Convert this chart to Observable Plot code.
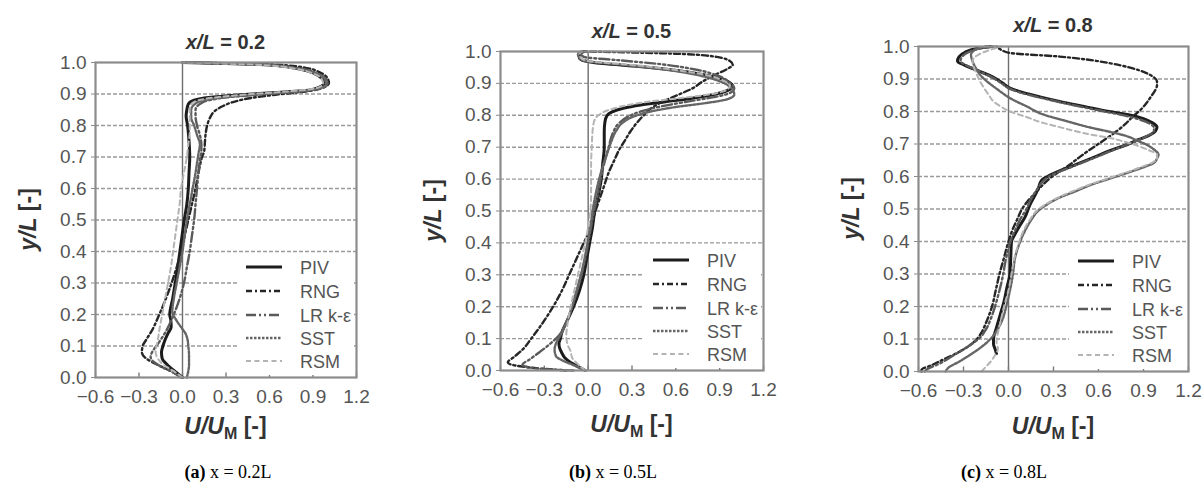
<!DOCTYPE html>
<html>
<head>
<meta charset="utf-8">
<script src="https://cdn.jsdelivr.net/npm/d3@7"></script>
<script src="https://cdn.jsdelivr.net/npm/@observablehq/plot@0.6"></script>
<style>
  html, body { margin: 0; padding: 0; background: #fff; overflow: hidden; }
  #fig { position: relative; width: 1203px; height: 490px; overflow: hidden; background: #fff; }
  #fig svg.panel { position: absolute; }
  #overlay { position: absolute; left: 0; top: 0; }
</style>
</head>
<body>
<div id="fig"></div>
<script>
// Axis ticks
const xTicks = [-0.6, -0.3, 0.0, 0.3, 0.6, 0.9, 1.2];
const yTicks = [0.0, 0.1, 0.2, 0.3, 0.4, 0.5, 0.6, 0.7, 0.8, 0.9, 1.0];
const gridY = [0.1, 0.2, 0.3, 0.4, 0.5, 0.6, 0.7, 0.8, 0.9];

const seriesNames = ["PIV", "RNG", "LR k-ε", "SST", "RSM"];
const panelTitles = ["0.2", "0.5", "0.8"];
const captionLetters = ["(a)", "(b)", "(c)"];
const captionTexts = [" x = 0.2L", " x = 0.5L", " x = 0.8L"];

// Velocity profiles, pairs of [y/L, U/U_M]
// x/L = 0.2
const pivA = [[1.000,0.00],[0.997,0.30],[0.992,0.60],[0.980,0.80],[0.965,0.91],[0.950,0.96],[0.937,0.98],[0.925,0.96],[0.913,0.88],[0.905,0.65],[0.897,0.38],[0.889,0.18],[0.880,0.08],[0.868,0.04],[0.850,0.03],[0.830,0.025],[0.800,0.035],[0.750,0.045],[0.700,0.050],[0.650,0.045],[0.600,0.040],[0.550,0.030],[0.500,0.012],[0.450,-0.003],[0.400,-0.018],[0.350,-0.033],[0.300,-0.050],[0.250,-0.068],[0.200,-0.088],[0.180,-0.080],[0.160,-0.078],[0.140,-0.100],[0.120,-0.120],[0.100,-0.135],[0.080,-0.145],[0.060,-0.140],[0.045,-0.115],[0.030,-0.080],[0.015,-0.040],[0.000,0.000]];
const rngA = [[1.000,0.02],[0.997,0.35],[0.993,0.65],[0.983,0.85],[0.968,0.95],[0.950,1.00],[0.935,1.01],[0.920,0.97],[0.908,0.85],[0.898,0.65],[0.888,0.48],[0.876,0.36],[0.862,0.28],[0.845,0.22],[0.825,0.19],[0.800,0.17],[0.775,0.16],[0.750,0.155],[0.720,0.15],[0.700,0.135],[0.650,0.11],[0.600,0.09],[0.550,0.065],[0.500,0.04],[0.450,0.015],[0.400,-0.01],[0.350,-0.04],[0.300,-0.075],[0.250,-0.115],[0.200,-0.16],[0.150,-0.21],[0.120,-0.25],[0.100,-0.275],[0.080,-0.28],[0.060,-0.25],[0.040,-0.17],[0.020,-0.08],[0.000,0.00]];
const lrA = [[1.000,0.01],[0.997,0.30],[0.992,0.60],[0.980,0.82],[0.965,0.93],[0.948,0.99],[0.932,1.00],[0.918,0.95],[0.908,0.80],[0.899,0.55],[0.890,0.32],[0.880,0.18],[0.868,0.12],[0.850,0.09],[0.830,0.09],[0.800,0.10],[0.770,0.12],[0.740,0.13],[0.720,0.13],[0.690,0.12],[0.650,0.11],[0.600,0.10],[0.550,0.09],[0.500,0.08],[0.450,0.065],[0.400,0.05],[0.350,0.03],[0.300,0.01],[0.250,-0.02],[0.200,-0.06],[0.150,-0.11],[0.120,-0.15],[0.100,-0.18],[0.080,-0.21],[0.065,-0.22],[0.050,-0.20],[0.035,-0.15],[0.020,-0.08],[0.000,-0.01]];
const sstA = [[1.000,0.00],[0.997,0.28],[0.992,0.58],[0.980,0.80],[0.965,0.92],[0.948,0.98],[0.930,0.99],[0.916,0.93],[0.906,0.75],[0.898,0.50],[0.889,0.28],[0.879,0.14],[0.866,0.08],[0.850,0.06],[0.825,0.06],[0.800,0.08],[0.770,0.10],[0.740,0.12],[0.710,0.11],[0.680,0.10],[0.650,0.09],[0.600,0.07],[0.550,0.05],[0.500,0.03],[0.450,0.015],[0.400,0.00],[0.350,-0.02],[0.300,-0.04],[0.250,-0.06],[0.210,-0.07],[0.180,-0.04],[0.160,-0.01],[0.140,0.02],[0.120,0.035],[0.100,0.04],[0.070,0.045],[0.040,0.045],[0.020,0.04],[0.000,0.03]];
const rsmA = [[1.000,0.00],[0.997,0.25],[0.992,0.55],[0.980,0.78],[0.965,0.90],[0.948,0.96],[0.932,0.97],[0.918,0.92],[0.908,0.72],[0.899,0.45],[0.890,0.24],[0.880,0.11],[0.868,0.06],[0.850,0.05],[0.820,0.05],[0.780,0.05],[0.740,0.04],[0.700,0.03],[0.650,0.01],[0.600,-0.01],[0.550,-0.02],[0.500,-0.035],[0.450,-0.05],[0.400,-0.065],[0.350,-0.08],[0.300,-0.10],[0.250,-0.12],[0.200,-0.14],[0.150,-0.16],[0.120,-0.17],[0.100,-0.18],[0.080,-0.185],[0.060,-0.17],[0.040,-0.13],[0.020,-0.06],[0.000,0.00]];

// x/L = 0.5
const pivB = [[1.000,-0.03],[0.992,-0.06],[0.980,-0.06],[0.970,-0.02],[0.962,0.10],[0.953,0.35],[0.940,0.62],[0.922,0.85],[0.905,0.96],[0.890,0.99],[0.877,0.95],[0.865,0.86],[0.853,0.70],[0.842,0.52],[0.832,0.36],[0.822,0.24],[0.810,0.16],[0.800,0.13],[0.780,0.115],[0.750,0.11],[0.700,0.11],[0.650,0.10],[0.600,0.09],[0.550,0.07],[0.500,0.045],[0.450,0.03],[0.400,0.01],[0.350,-0.01],[0.300,-0.03],[0.250,-0.06],[0.200,-0.10],[0.150,-0.15],[0.120,-0.18],[0.100,-0.19],[0.085,-0.20],[0.070,-0.195],[0.055,-0.18],[0.040,-0.16],[0.025,-0.12],[0.012,-0.07],[0.000,-0.02]];
const rngB = [[1.000,-0.02],[0.997,0.30],[0.992,0.65],[0.983,0.88],[0.970,0.97],[0.958,0.99],[0.945,0.95],[0.925,0.86],[0.905,0.78],[0.886,0.72],[0.865,0.62],[0.845,0.52],[0.825,0.44],[0.800,0.38],[0.780,0.34],[0.750,0.29],[0.720,0.25],[0.690,0.21],[0.660,0.18],[0.620,0.14],[0.580,0.11],[0.540,0.08],[0.500,0.05],[0.450,0.02],[0.400,-0.03],[0.350,-0.08],[0.300,-0.13],[0.250,-0.18],[0.200,-0.24],[0.150,-0.31],[0.100,-0.39],[0.070,-0.44],[0.045,-0.50],[0.025,-0.55],[0.012,-0.45],[0.000,-0.15]];
const lrB = [[1.000,-0.04],[0.993,-0.05],[0.983,-0.03],[0.973,0.20],[0.960,0.50],[0.942,0.75],[0.922,0.90],[0.902,0.97],[0.885,1.00],[0.870,0.97],[0.857,0.86],[0.843,0.68],[0.828,0.50],[0.812,0.36],[0.795,0.27],[0.775,0.21],[0.745,0.17],[0.700,0.14],[0.650,0.11],[0.600,0.085],[0.550,0.065],[0.500,0.04],[0.450,0.02],[0.400,0.00],[0.350,-0.02],[0.300,-0.045],[0.250,-0.075],[0.200,-0.11],[0.150,-0.15],[0.110,-0.20],[0.080,-0.27],[0.055,-0.34],[0.035,-0.40],[0.018,-0.45],[0.006,-0.35],[0.000,-0.10]];
const sstB = [[1.000,-0.05],[0.992,-0.07],[0.980,-0.06],[0.970,-0.02],[0.960,0.20],[0.945,0.50],[0.925,0.76],[0.905,0.91],[0.885,0.98],[0.865,1.00],[0.850,0.95],[0.838,0.80],[0.826,0.60],[0.812,0.43],[0.796,0.31],[0.778,0.24],[0.750,0.19],[0.720,0.16],[0.680,0.13],[0.640,0.10],[0.600,0.075],[0.550,0.05],[0.500,0.03],[0.450,0.015],[0.400,-0.005],[0.350,-0.025],[0.300,-0.05],[0.250,-0.08],[0.200,-0.11],[0.150,-0.15],[0.110,-0.19],[0.085,-0.22],[0.065,-0.23],[0.045,-0.22],[0.030,-0.17],[0.015,-0.09],[0.000,-0.02]];
const rsmB = [[1.000,-0.04],[0.992,-0.06],[0.980,-0.05],[0.970,0.00],[0.958,0.30],[0.942,0.60],[0.925,0.82],[0.908,0.93],[0.893,0.97],[0.880,0.95],[0.867,0.85],[0.855,0.65],[0.843,0.42],[0.830,0.25],[0.815,0.13],[0.800,0.07],[0.780,0.04],[0.750,0.03],[0.700,0.025],[0.650,0.02],[0.600,0.02],[0.550,0.02],[0.500,0.015],[0.450,0.00],[0.400,-0.02],[0.350,-0.045],[0.300,-0.07],[0.250,-0.095],[0.200,-0.12],[0.150,-0.14],[0.110,-0.15],[0.080,-0.14],[0.060,-0.12],[0.040,-0.11],[0.020,-0.07],[0.000,-0.02]];

// x/L = 0.8
const pivC = [[1.000,-0.12],[0.993,-0.22],[0.982,-0.29],[0.968,-0.33],[0.955,-0.34],[0.942,-0.29],[0.925,-0.20],[0.905,-0.10],[0.888,-0.04],[0.872,0.01],[0.858,0.10],[0.845,0.21],[0.831,0.34],[0.815,0.51],[0.800,0.67],[0.790,0.80],[0.778,0.90],[0.765,0.96],[0.752,0.99],[0.740,0.98],[0.727,0.94],[0.714,0.87],[0.700,0.80],[0.680,0.68],[0.657,0.56],[0.635,0.44],[0.617,0.34],[0.600,0.26],[0.588,0.22],[0.565,0.20],[0.545,0.18],[0.510,0.14],[0.475,0.11],[0.445,0.07],[0.420,0.04],[0.400,0.02],[0.350,0.015],[0.300,0.01],[0.260,-0.01],[0.215,-0.03],[0.175,-0.055],[0.135,-0.08],[0.100,-0.10],[0.085,-0.10],[0.070,-0.09],[0.055,-0.08]];
const rngC = [[1.000,-0.08],[0.990,-0.05],[0.980,0.01],[0.969,0.34],[0.960,0.52],[0.949,0.67],[0.935,0.81],[0.918,0.92],[0.905,0.97],[0.893,0.99],[0.880,0.99],[0.867,0.98],[0.846,0.95],[0.826,0.92],[0.805,0.88],[0.785,0.83],[0.762,0.78],[0.739,0.72],[0.713,0.64],[0.688,0.56],[0.662,0.48],[0.637,0.41],[0.615,0.34],[0.596,0.28],[0.575,0.23],[0.550,0.18],[0.525,0.13],[0.500,0.09],[0.470,0.06],[0.440,0.03],[0.400,0.00],[0.350,-0.03],[0.300,-0.06],[0.250,-0.085],[0.200,-0.11],[0.150,-0.15],[0.120,-0.18],[0.100,-0.21],[0.080,-0.26],[0.060,-0.33],[0.040,-0.42],[0.020,-0.51],[0.005,-0.58],[0.000,-0.58]];
const lrC = [[1.000,-0.10],[0.993,-0.20],[0.982,-0.27],[0.968,-0.31],[0.955,-0.32],[0.942,-0.28],[0.925,-0.20],[0.905,-0.11],[0.888,-0.05],[0.872,0.00],[0.858,0.08],[0.845,0.19],[0.831,0.32],[0.815,0.48],[0.800,0.64],[0.788,0.77],[0.776,0.87],[0.763,0.94],[0.750,0.97],[0.738,0.97],[0.726,0.93],[0.713,0.87],[0.700,0.80],[0.680,0.69],[0.657,0.57],[0.635,0.45],[0.617,0.35],[0.600,0.27],[0.585,0.23],[0.560,0.19],[0.530,0.15],[0.500,0.12],[0.470,0.08],[0.440,0.05],[0.410,0.02],[0.380,0.00],[0.340,-0.02],[0.300,-0.035],[0.250,-0.06],[0.200,-0.09],[0.160,-0.12],[0.130,-0.15],[0.100,-0.20],[0.080,-0.26],[0.060,-0.33],[0.040,-0.40],[0.022,-0.47],[0.008,-0.54],[0.000,-0.56]];
const sstC = [[1.000,-0.15],[0.990,-0.22],[0.975,-0.25],[0.955,-0.24],[0.935,-0.22],[0.913,-0.19],[0.895,-0.15],[0.877,-0.10],[0.860,-0.05],[0.841,0.01],[0.816,0.12],[0.791,0.23],[0.770,0.39],[0.749,0.56],[0.737,0.68],[0.724,0.79],[0.710,0.86],[0.698,0.92],[0.683,0.97],[0.668,1.00],[0.655,0.99],[0.642,0.97],[0.630,0.91],[0.617,0.83],[0.597,0.70],[0.576,0.56],[0.555,0.45],[0.535,0.34],[0.515,0.26],[0.495,0.20],[0.465,0.15],[0.433,0.11],[0.390,0.07],[0.350,0.044],[0.300,0.03],[0.250,0.01],[0.200,-0.015],[0.160,-0.04],[0.124,-0.08],[0.100,-0.12],[0.072,-0.19],[0.050,-0.26],[0.030,-0.33],[0.012,-0.40],[0.000,-0.42]];
const rsmC = [[1.000,-0.05],[0.990,-0.12],[0.975,-0.20],[0.955,-0.24],[0.935,-0.23],[0.913,-0.21],[0.893,-0.19],[0.870,-0.16],[0.850,-0.13],[0.831,-0.10],[0.815,-0.05],[0.800,0.01],[0.783,0.12],[0.765,0.23],[0.752,0.34],[0.739,0.45],[0.728,0.56],[0.719,0.67],[0.706,0.78],[0.693,0.87],[0.680,0.94],[0.668,0.99],[0.655,0.99],[0.643,0.96],[0.630,0.89],[0.615,0.80],[0.595,0.67],[0.575,0.54],[0.555,0.43],[0.535,0.33],[0.515,0.25],[0.495,0.19],[0.465,0.14],[0.433,0.10],[0.390,0.065],[0.350,0.04],[0.300,0.02],[0.250,0.00],[0.200,-0.03],[0.160,-0.05],[0.120,-0.07],[0.090,-0.08],[0.070,-0.07],[0.050,-0.09],[0.030,-0.12],[0.015,-0.15],[0.000,-0.18]];

const panelSeries = [
  [pivA, rngA, lrA, sstA, rsmA],
  [pivB, rngB, lrB, sstB, rsmB],
  [pivC, rngC, lrC, sstC, rsmC]
];

// Line styles, one per model, in the order of seriesNames
const lineStyles = [
  {stroke: "#1c1c1c", strokeWidth: 3.0, strokeDasharray: null},
  {stroke: "#262626", strokeWidth: 2.4, strokeDasharray: "6,3,2,3"},
  {stroke: "#5a5a5a", strokeWidth: 2.4, strokeDasharray: "10,3,2,3,2,3"},
  {stroke: "#666", strokeWidth: 2.4, strokeDasharray: "2.5,1.5"},
  {stroke: "#b4b4b4", strokeWidth: 2.0, strokeDasharray: "5,3.5"}
];

// Plot-area frames in page pixels: left, top, width, height
const frames = [
  {left: 95,  top: 62, width: 261, height: 315, caption: 228},
  {left: 500, top: 51, width: 263, height: 319, caption: 613},
  {left: 918, top: 46, width: 270, height: 325, caption: 1004}
];

const fig = document.getElementById("fig");
const mL = 70, mR = 20, mT = 12, mB = 44;
const fmt = d3.format(".1f");

frames.forEach((f, i) => {
  const lines = panelSeries[i].map((s, k) => {
    const rows = s.map(([y, u]) => ({y, u})).sort((a, b) => a.y - b.y);
    const st = lineStyles[k];
    const opts = {x: "u", y: "y", curve: "monotone-y", stroke: st.stroke, strokeWidth: st.strokeWidth,
                  strokeLinejoin: "round"};
    if (st.strokeDasharray) opts.strokeDasharray = st.strokeDasharray;
    return Plot.line(rows, opts);
  });

  const chart = Plot.plot({
    width: f.width + mL + mR,
    height: f.height + mT + mB,
    marginLeft: mL, marginRight: mR, marginTop: mT, marginBottom: mB,
    x: {domain: [-0.6, 1.2]},
    y: {domain: [0, 1]},
    style: {fontFamily: "'Liberation Sans', Arial, sans-serif", fontSize: "19px", color: "#555", background: "transparent", overflow: "visible"},
    marks: [
      Plot.ruleY(gridY, {stroke: "#9a9a9a", strokeWidth: 1.4, strokeDasharray: "4,2"}),
      Plot.ruleX([0], {stroke: "#6e6e6e", strokeWidth: 1.4}),
      Plot.ruleX(xTicks, {x: d => d, y1: 0, y2: 0.014, stroke: "#7a7a7a", strokeWidth: 1.4}),
      ...lines,
      Plot.frame({stroke: "#8c8c8c", strokeWidth: 2.2}),
      Plot.axisX({ticks: xTicks, tickFormat: fmt, tickSize: 0, tickPadding: 12, label: null, fill: "#555"}),
      Plot.axisY({ticks: yTicks, tickFormat: fmt, tickSize: 4, tickPadding: 5, label: null, stroke: "#8c8c8c", fill: "#555"})
    ]
  });
  chart.classList.add("panel");
  chart.style.left = (f.left - mL) + "px";
  chart.style.top = (f.top - mT) + "px";
  fig.appendChild(chart);
});

// Titles, axis labels, legends and captions
const ov = d3.select(fig).append("svg")
  .attr("id", "overlay").attr("width", 1203).attr("height", 490)
  .style("font-family", "'Liberation Sans', Arial, sans-serif");

const titleBase = [49, 38, 32];
const xLabelBase = [434, 432, 434];

frames.forEach((f, i) => {
  const cx = f.left + f.width / 2;
  const cy = f.top + f.height / 2;
  const right = f.left + f.width;
  const bottom = f.top + f.height;

  // panel title
  const t = ov.append("text").attr("x", cx).attr("y", titleBase[i])
    .attr("text-anchor", "middle").attr("font-size", 20).attr("font-weight", "bold").attr("fill", "#333");
  t.append("tspan").attr("font-style", "italic").text("x/L");
  t.append("tspan").text(" = " + panelTitles[i]);

  // y axis label
  const yl = ov.append("g").attr("transform", `translate(${f.left - 67},${cy}) rotate(-90)`)
    .append("text").attr("y", 8).attr("text-anchor", "middle")
    .attr("font-size", 23).attr("font-weight", "bold").attr("fill", "#333");
  yl.append("tspan").attr("font-style", "italic").text("y/L");
  yl.append("tspan").text(" [-]");

  // x axis label
  const xl = ov.append("text").attr("x", cx).attr("y", xLabelBase[i]).attr("text-anchor", "middle")
    .attr("font-size", 23).attr("font-weight", "bold").attr("fill", "#333");
  xl.append("tspan").attr("font-style", "italic").text("U/U");
  xl.append("tspan").attr("font-size", 16).attr("dy", 5).text("M");
  xl.append("tspan").attr("dy", -5).text(" [-]");

  // legend
  const lg = ov.append("g");
  lg.append("rect").attr("x", right - 119).attr("y", bottom - 124)
    .attr("width", 117).attr("height", 122).attr("fill", "#fff");
  const rowOff = [110, 86, 62, 39, 16];
  seriesNames.forEach((name, k) => {
    const ry = bottom - rowOff[k];
    const st = lineStyles[k];
    const ln = lg.append("line").attr("x1", right - 110).attr("x2", right - 74)
      .attr("y1", ry).attr("y2", ry)
      .attr("stroke", st.stroke).attr("stroke-width", st.strokeWidth);
    if (st.strokeDasharray) ln.attr("stroke-dasharray", st.strokeDasharray);
    lg.append("text").attr("x", right - 56).attr("y", ry + 6.5)
      .attr("font-size", 18).attr("fill", "#555").text(name);
  });

  // caption below the panel
  const c = ov.append("text").attr("x", f.caption).attr("y", 478).attr("text-anchor", "middle")
    .attr("font-family", "'Liberation Serif', 'Times New Roman', serif").attr("font-size", 18).attr("fill", "#000");
  c.append("tspan").attr("font-weight", "bold").text(captionLetters[i]);
  c.append("tspan").text(captionTexts[i]);
});
</script>
</body>
</html>
